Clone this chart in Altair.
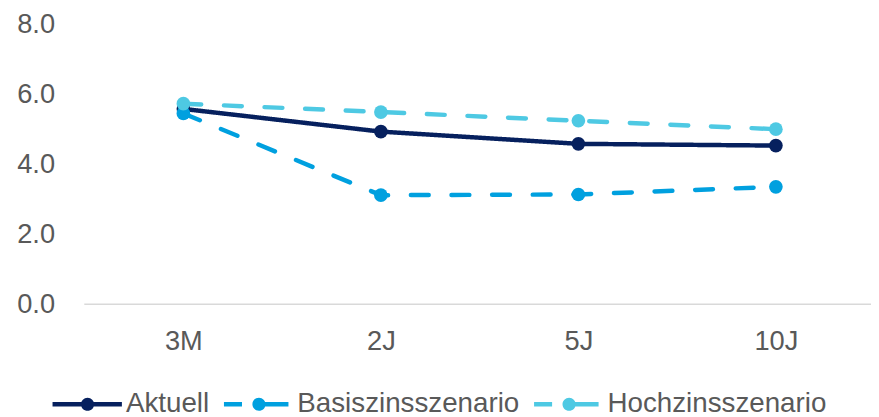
import altair as alt
import pandas as pd

terms = ["3M", "2J", "5J", "10J"]
series = ["Aktuell", "Basiszinsszenario", "Hochzinsszenario"]
aktuell = [5.59, 4.94, 4.59, 4.54]
basis = [5.46, 3.12, 3.14, 3.36]
hoch = [5.74, 5.50, 5.25, 5.01]
colors = ["#06205E", "#00A0DF", "#4EC9E3"]
y_ticks = [0, 2, 4, 6, 8]

rows = []
for s, vals in zip(series, [aktuell, basis, hoch]):
    for t, v in zip(terms, vals):
        rows.append({"series": s, "term": t, "value": v})
df = pd.DataFrame(rows)

FONT = "Liberation Sans"
TEXT = "#595959"

# legend symbols: line with a marker (dashed ones have a gap on the left)
solid_sym = ("M-0.83,-0.065H1.17V0.065H-0.83Z "
             "M0.37,0A0.19,0.19 0 1,1 -0.01,0A0.19,0.19 0 1,1 0.37,0Z")
dash_sym = ("M-0.83,-0.065H-0.31V0.065H-0.83Z M0.0,-0.065H1.03V0.065H0.0Z "
            "M0.37,0A0.19,0.19 0 1,1 -0.01,0A0.19,0.19 0 1,1 0.37,0Z")
sym_paths = [solid_sym, dash_sym, dash_sym]

x_enc = alt.X(
    "term:N", sort=terms,
    scale=alt.Scale(type="point", range=[100, 698], padding=0),
    axis=alt.Axis(title=None, domain=False, ticks=False, labelPadding=24,
                  labelFont=FONT, labelFontSize=27.5, labelColor=TEXT, labelAngle=0),
)
y_enc = alt.Y(
    "value:Q", scale=alt.Scale(domain=[0, 8]),
    axis=alt.Axis(title=None, values=y_ticks, format=".1f", grid=False, domain=False,
                  ticks=False, labelPadding=30, labelFont=FONT, labelFontSize=27.5,
                  labelColor=TEXT),
)
color_scale = alt.Scale(domain=series, range=colors)

baseline = alt.Chart(pd.DataFrame({"v": [0]})).mark_rule(
    color="#D9D9D9", strokeWidth=1.5
).encode(y=alt.Y("v:Q", scale=alt.Scale(domain=[0, 8])))

lines = alt.Chart(df).mark_line(strokeWidth=4.5, strokeCap="round", strokeJoin="round").encode(
    x=x_enc, y=y_enc,
    color=alt.Color("series:N", scale=color_scale),
    strokeDash=alt.StrokeDash("series:N", scale=alt.Scale(domain=series, range=[[1, 0], [18, 23], [18, 23]]), legend=None),
)

points = alt.Chart(df).mark_circle(size=190, opacity=1).encode(
    x=x_enc, y=y_enc,
    color=alt.Color("series:N", scale=color_scale),
)

leg = alt.Legend(
    title=None, orient="none", legendX=-38, legendY=348, direction="horizontal",
    symbolSize=4900, symbolStrokeWidth=0, symbolOpacity=1,
    labelFont=FONT, labelFontSize=28, labelColor=TEXT, labelLimit=0,
    columnPadding=8, labelOffset=10, padding=0,
)

legend_layer = alt.Chart(df).transform_filter("false").mark_point(
    filled=True, opacity=1, size=4900, strokeWidth=0
).encode(
    color=alt.Color("series:N", scale=color_scale, legend=leg),
    shape=alt.Shape("series:N", scale=alt.Scale(domain=series, range=sym_paths), legend=leg),
)

chart = alt.layer(baseline, lines, points, legend_layer).properties(
    width=794, height=282,
    autosize=alt.AutoSizeParams(type="none"),
    padding={"left": 77, "top": 15, "right": 0, "bottom": 112},
    background="white",
).configure_view(stroke=None)

chart.save("out.html", embed_options={"renderer": "svg", "actions": False})
